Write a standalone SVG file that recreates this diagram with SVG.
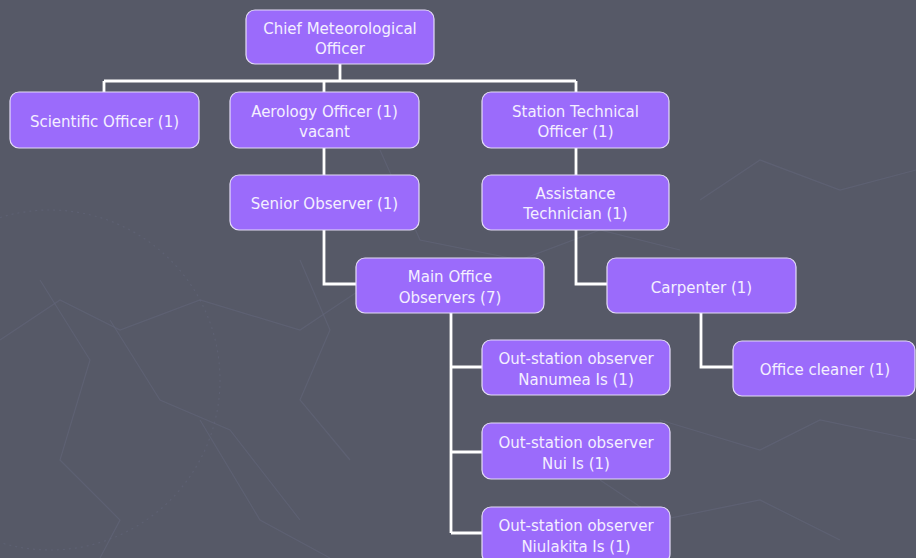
<svg xmlns="http://www.w3.org/2000/svg" width="916" height="558" viewBox="0 0 916 558">
<style>
.bg{fill:#565967}
.deco{fill:none;stroke:#62667a;stroke-width:1.2;opacity:0.6}
.node rect{fill:#9b6bfb;stroke:#e4dcf8;stroke-width:1.2}
.node text{font-family:"DejaVu Sans",Verdana,sans-serif;font-size:15px;fill:#f4efff;text-anchor:middle}
.conn{fill:none;stroke:#ffffff;stroke-width:2.8}
</style>
<rect class="bg" x="0" y="0" width="916" height="558"/>
<g id="background-texture">
<circle class="deco" cx="50" cy="380" r="170" stroke-dasharray="2 4" stroke-width="6" opacity="0.3"/>
<polyline class="deco" points="0,340 60,300 120,330 200,300 300,330 360,290"/>
<polyline class="deco" points="40,280 90,360 60,460 120,520 100,558"/>
<polyline class="deco" points="110,320 160,400 230,430 300,520"/>
<polyline class="deco" points="200,420 260,520 330,558"/>
<polyline class="deco" points="380,150 420,240 520,260 600,230 680,250"/>
<polyline class="deco" points="660,420 760,450 820,420 916,440"/>
<polyline class="deco" points="700,200 760,160 840,190 916,170"/>
<polyline class="deco" points="600,480 660,520 760,500 840,540"/>
<polyline class="deco" points="300,260 330,330 300,400 350,460"/>
</g>
<g id="connectors">
<path class="conn" d="M340,64 V81 M104,81 H576 M104,81 V92 M324,81 V92 M576,81 V92"/>
<path class="conn" d="M324,148 V175 M324,230 V284 H356"/>
<path class="conn" d="M576,148 V175 M576,230 V284 H607"/>
<path class="conn" d="M451,313 V533 M451,367 H482 M451,452 H482 M451,533 H482"/>
<path class="conn" d="M701,313 V367 H733"/>
</g>
<g id="chief" class="node"><rect x="246" y="10" width="188" height="54" rx="9"/><text x="340" y="34">Chief Meteorological</text><text x="340" y="54">Officer</text></g>
<g id="scientific" class="node"><rect x="10" y="92" width="189" height="56" rx="9"/><text x="104.5" y="127">Scientific Officer (1)</text></g>
<g id="aerology" class="node"><rect x="230" y="92" width="189" height="56" rx="9"/><text x="324.5" y="117">Aerology Officer (1)</text><text x="324.5" y="137">vacant</text></g>
<g id="station-technical" class="node"><rect x="482" y="92" width="187" height="56" rx="9"/><text x="575.5" y="117">Station Technical</text><text x="575.5" y="137">Officer (1)</text></g>
<g id="senior-observer" class="node"><rect x="230" y="175" width="189" height="55" rx="9"/><text x="324.5" y="209">Senior Observer (1)</text></g>
<g id="assistance-technician" class="node"><rect x="482" y="175" width="187" height="55" rx="9"/><text x="575.5" y="199">Assistance</text><text x="575.5" y="219">Technician (1)</text></g>
<g id="main-office" class="node"><rect x="356" y="258" width="188" height="55" rx="9"/><text x="450" y="282">Main Office</text><text x="450" y="303">Observers (7)</text></g>
<g id="carpenter" class="node"><rect x="607" y="258" width="189" height="55" rx="9"/><text x="701.5" y="293">Carpenter (1)</text></g>
<g id="office-cleaner" class="node"><rect x="733" y="341" width="182" height="55" rx="9"/><text x="825" y="375">Office cleaner (1)</text></g>
<g id="nanumea" class="node"><rect x="482" y="340" width="188" height="55" rx="9"/><text x="576" y="364">Out-station observer</text><text x="576" y="385">Nanumea Is (1)</text></g>
<g id="nui" class="node"><rect x="482" y="423" width="188" height="56" rx="9"/><text x="576" y="448">Out-station observer</text><text x="576" y="469">Nui Is (1)</text></g>
<g id="niulakita" class="node"><rect x="482" y="507" width="188" height="56" rx="9"/><text x="576" y="531">Out-station observer</text><text x="576" y="552">Niulakita Is (1)</text></g>
</svg>
